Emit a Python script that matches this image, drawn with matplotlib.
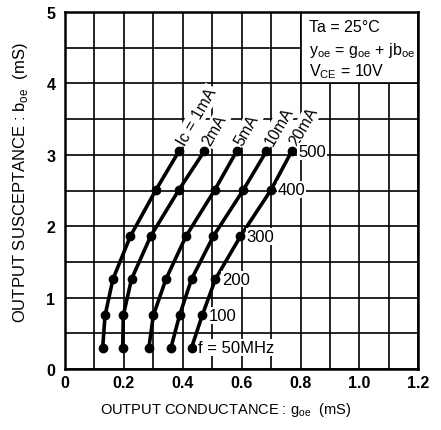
import matplotlib
matplotlib.use("Agg")
import matplotlib.pyplot as plt
from matplotlib.patches import Rectangle
from matplotlib.ticker import MultipleLocator, FixedLocator, FixedFormatter

plt.rcParams['font.family'] = ['Liberation Sans', 'DejaVu Sans']
plt.rcParams['mathtext.fontset'] = 'custom'
plt.rcParams['mathtext.rm'] = 'Liberation Sans'

# ---- data ----
freq_labels = ["f = 50MHz", "100", "200", "300", "400", "500"]
curve_labels = ["Ic = 1mA", "2mA", "5mA", "10mA", "20mA"]
b_oe = [0.30, 0.75, 1.26, 1.86, 2.51, 3.05]          # susceptance at each frequency
g_1mA = [0.128, 0.136, 0.163, 0.222, 0.309, 0.387]
g_2mA = [0.196, 0.198, 0.226, 0.291, 0.387, 0.473]
g_5mA = [0.285, 0.300, 0.343, 0.411, 0.509, 0.583]
g_10mA = [0.360, 0.389, 0.430, 0.504, 0.606, 0.684]
g_20mA = [0.430, 0.466, 0.511, 0.596, 0.700, 0.770]
x_ticks = [0, 0.2, 0.4, 0.6, 0.8, 1.0, 1.2]
x_tick_labels = ["0", "0.2", "0.4", "0.6", "0.8", "1.0", "1.2"]
y_ticks = [0, 1, 2, 3, 4, 5]
y_tick_labels = ["0", "1", "2", "3", "4", "5"]

series = [g_1mA, g_2mA, g_5mA, g_10mA, g_20mA]

fig = plt.figure(figsize=(4.41, 4.31), dpi=100)
ax = fig.add_axes([65/441, (431-370)/431, (418.3-65)/441, (370-13)/431])
ax.set_xlim(0, 1.2)
ax.set_ylim(0, 5)

ax.xaxis.set_major_locator(FixedLocator(x_ticks))
ax.xaxis.set_major_formatter(FixedFormatter(x_tick_labels))
ax.yaxis.set_major_locator(FixedLocator(y_ticks))
ax.yaxis.set_major_formatter(FixedFormatter(y_tick_labels))
ax.xaxis.set_minor_locator(MultipleLocator(0.1))
ax.yaxis.set_minor_locator(MultipleLocator(0.5))
ax.set_axisbelow(True)
ax.grid(which='both', color='black', linewidth=1.2)
ax.tick_params(which='both', length=0)
ax.tick_params(axis='x', pad=4, labelsize=11.5)
ax.tick_params(axis='y', pad=7, labelsize=11.5)
for lab in ax.get_xticklabels() + ax.get_yticklabels():
    lab.set_fontweight('bold')
for s in ax.spines.values():
    s.set_linewidth(1.8)

# condition box (covers the grid in the upper right)
ax.add_patch(Rectangle((0.8, 4.0), 0.4, 1.0, facecolor='white', edgecolor='black',
                       linewidth=1.2, zorder=1.5))
ax.text(0.83, 4.79, "Ta = 25°C", fontsize=11.5, va='center', ha='left', zorder=2)
ax.text(0.83, 4.47, r"y$_{\mathrm{oe}}$ = g$_{\mathrm{oe}}$ + jb$_{\mathrm{oe}}$", fontsize=11.5,
        va='center', ha='left', zorder=2)
ax.text(0.83, 4.18, r"V$_{\mathrm{CE}}$ = 10V", fontsize=11.5, va='center', ha='left', zorder=2)

# curves
for g, lab in zip(series, curve_labels):
    ax.plot(g, b_oe, color='black', linewidth=2.6, marker='o', markersize=6, zorder=3,
            solid_capstyle='round', solid_joinstyle='round')
    ax.annotate(lab, xy=(g[-1], b_oe[-1]), xytext=(1.5, 5.5), textcoords='offset points',
                rotation=60, rotation_mode='anchor', ha='left', va='center', fontsize=11.5,
                zorder=4,
                bbox=dict(boxstyle='square,pad=0.1', facecolor='white', edgecolor='none'))

# frequency labels along the 20 mA curve
for gx, by, fl in zip(g_20mA, b_oe, freq_labels):
    ax.annotate(fl, xy=(gx, by), xytext=(4.5, 0), textcoords='offset points',
                ha='left', va='center', fontsize=12, zorder=4,
                bbox=dict(boxstyle='square,pad=0.05', facecolor='white', edgecolor='none'))

fig.text(226/441, (431-410)/431, r"OUTPUT CONDUCTANCE : g$_{\mathrm{oe}}$  (mS)",
         ha='center', va='center', fontsize=10.5)
fig.text(21/441, (431-183)/431, r"OUTPUT SUSCEPTANCE : b$_{\mathrm{oe}}$  (mS)",
         ha='center', va='center', rotation=90, fontsize=12)

fig.savefig("out.png", dpi=100)
